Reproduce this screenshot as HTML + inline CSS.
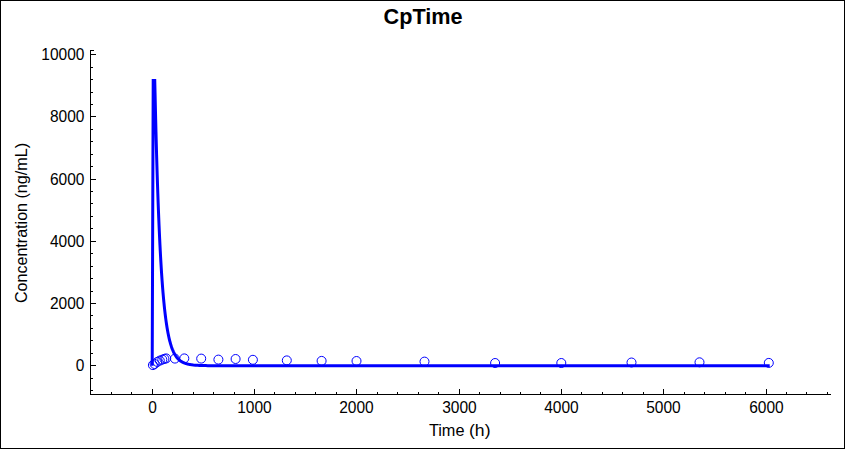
<!DOCTYPE html><html><head><meta charset="utf-8"><style>html,body{margin:0;padding:0;background:#fff;}svg{display:block;}text{font-family:"Liberation Sans",sans-serif;fill:#000;}</style></head><body>
<svg width="845" height="449" viewBox="0 0 845 449">
<rect x="0" y="0" width="845" height="449" fill="#fff"/>
<rect x="0.5" y="0.5" width="844" height="448" fill="none" stroke="#000" stroke-width="1"/>
<text x="383.6" y="23.5" font-size="22.6" font-weight="bold" textLength="79" lengthAdjust="spacingAndGlyphs">CpTime</text>
<path d="M90.5 50 V394.5 H830.5 M90 50.5 H94 M90 365.5 H96 M90 303.5 H96 M90 241.5 H96 M90 179.5 H96 M90 116.5 H96 M90 54.5 H96 M90 390.5 H93 M90 378.5 H93 M90 353.5 H93 M90 340.5 H93 M90 328.5 H93 M90 315.5 H93 M90 291.5 H93 M90 278.5 H93 M90 266.5 H93 M90 253.5 H93 M90 228.5 H93 M90 216.5 H93 M90 203.5 H93 M90 191.5 H93 M90 166.5 H93 M90 154.5 H93 M90 141.5 H93 M90 129.5 H93 M90 104.5 H93 M90 92.5 H93 M90 79.5 H93 M90 67.5 H93 M152.5 389 V395 M254.5 389 V395 M356.5 389 V395 M459.5 389 V395 M561.5 389 V395 M663.5 389 V395 M766.5 389 V395 M111.5 392 V395 M131.5 392 V395 M172.5 392 V395 M193.5 392 V395 M213.5 392 V395 M234.5 392 V395 M274.5 392 V395 M295.5 392 V395 M315.5 392 V395 M336.5 392 V395 M377.5 392 V395 M397.5 392 V395 M418.5 392 V395 M438.5 392 V395 M479.5 392 V395 M500.5 392 V395 M520.5 392 V395 M540.5 392 V395 M581.5 392 V395 M602.5 392 V395 M622.5 392 V395 M643.5 392 V395 M684.5 392 V395 M704.5 392 V395 M725.5 392 V395 M745.5 392 V395 M786.5 392 V395 M806.5 392 V395 M827.5 392 V395" stroke="#000" stroke-width="1" fill="none" shape-rendering="crispEdges"/>
<text x="84.5" y="371" text-anchor="end" font-size="16" textLength="8.63" lengthAdjust="spacingAndGlyphs">0</text>
<text x="84.5" y="309" text-anchor="end" font-size="16" textLength="34.52" lengthAdjust="spacingAndGlyphs">2000</text>
<text x="84.5" y="247" text-anchor="end" font-size="16" textLength="34.52" lengthAdjust="spacingAndGlyphs">4000</text>
<text x="84.5" y="185" text-anchor="end" font-size="16" textLength="34.52" lengthAdjust="spacingAndGlyphs">6000</text>
<text x="84.5" y="122" text-anchor="end" font-size="16" textLength="34.52" lengthAdjust="spacingAndGlyphs">8000</text>
<text x="84.5" y="60" text-anchor="end" font-size="16" textLength="43.15" lengthAdjust="spacingAndGlyphs">10000</text>
<text x="152.5" y="413" text-anchor="middle" font-size="16" textLength="8.63" lengthAdjust="spacingAndGlyphs">0</text>
<text x="254.5" y="413" text-anchor="middle" font-size="16" textLength="34.52" lengthAdjust="spacingAndGlyphs">1000</text>
<text x="356.5" y="413" text-anchor="middle" font-size="16" textLength="34.52" lengthAdjust="spacingAndGlyphs">2000</text>
<text x="459.5" y="413" text-anchor="middle" font-size="16" textLength="34.52" lengthAdjust="spacingAndGlyphs">3000</text>
<text x="561.5" y="413" text-anchor="middle" font-size="16" textLength="34.52" lengthAdjust="spacingAndGlyphs">4000</text>
<text x="663.5" y="413" text-anchor="middle" font-size="16" textLength="34.52" lengthAdjust="spacingAndGlyphs">5000</text>
<text x="766.5" y="413" text-anchor="middle" font-size="16" textLength="34.52" lengthAdjust="spacingAndGlyphs">6000</text>
<text x="428.9" y="435.6" font-size="16" textLength="35.6" lengthAdjust="spacingAndGlyphs">Time</text>
<text x="469" y="435.6" font-size="16" textLength="21.5" lengthAdjust="spacingAndGlyphs">(h)</text>
<text transform="translate(27 303) rotate(-90)" x="0" y="0" font-size="16" textLength="100" lengthAdjust="spacingAndGlyphs">Concentration</text>
<text transform="translate(27 198.6) rotate(-90)" x="0" y="0" font-size="16" textLength="55.6" lengthAdjust="spacingAndGlyphs">(ng/mL)</text>
<path d="M152.20 365.80 L153.20 80.40 L154.75 80.40 L155.05 93.03 L155.36 106.68 L155.67 119.63 L155.98 131.93 L156.28 143.60 L156.59 154.68 L156.90 165.19 L157.20 175.18 L157.51 184.66 L157.82 193.66 L158.12 202.20 L158.43 210.32 L158.74 218.02 L159.05 225.33 L159.35 232.28 L159.66 238.87 L159.97 245.13 L160.27 251.08 L160.58 256.73 L160.89 262.09 L161.19 267.19 L161.50 272.03 L161.81 276.62 L162.12 280.99 L162.42 285.14 L162.73 289.08 L163.04 292.82 L163.34 296.37 L163.65 299.75 L163.96 302.96 L164.26 306.01 L164.57 308.91 L164.88 311.66 L165.19 314.28 L165.49 316.76 L165.80 319.13 L166.11 321.37 L166.41 323.51 L166.72 325.54 L167.03 327.47 L167.33 329.30 L167.64 331.04 L167.95 332.70 L168.26 334.28 L168.56 335.77 L168.87 337.20 L169.18 338.55 L169.48 339.84 L169.79 341.07 L170.10 342.23 L170.40 343.34 L170.71 344.40 L171.02 345.40 L171.33 346.35 L171.63 347.26 L171.94 348.13 L172.25 348.95 L172.55 349.73 L172.86 350.48 L173.17 351.18 L173.47 351.86 L173.78 352.50 L174.09 353.11 L174.40 353.69 L174.70 354.25 L175.01 354.78 L175.32 355.28 L175.62 355.76 L175.93 356.21 L176.24 356.65 L176.54 357.06 L176.85 357.45 L177.16 357.83 L177.47 358.19 L177.77 358.53 L178.08 358.85 L178.39 359.16 L178.69 359.46 L179.00 359.74 L179.31 360.01 L179.61 360.26 L179.92 360.50 L180.23 360.74 L180.54 360.96 L180.84 361.17 L181.15 361.37 L181.46 361.56 L181.76 361.75 L182.07 361.92 L182.38 362.09 L182.68 362.25 L182.99 362.40 L183.30 362.55 L183.61 362.69 L183.91 362.82 L184.22 362.94 L184.53 363.07 L184.83 363.18 L185.14 363.29 L185.45 363.40 L185.75 363.50 L186.06 363.59 L186.37 363.68 L186.68 363.77 L186.98 363.86 L187.29 363.94 L187.60 364.01 L187.90 364.09 L188.21 364.16 L188.52 364.22 L188.82 364.29 L189.13 364.35 L189.44 364.41 L189.75 364.46 L190.05 364.52 L190.36 364.57 L190.67 364.62 L190.97 364.67 L191.28 364.71 L191.59 364.75 L191.89 364.79 L192.20 364.83 L192.51 364.87 L192.82 364.91 L193.12 364.94 L193.43 364.98 L195.48 365.17 L197.52 365.31 L199.57 365.42 L201.62 365.50 L203.66 365.57 L205.71 365.62 L207.76 365.66 L209.80 365.69 L211.85 365.71 L213.90 365.73 L215.94 365.74 L217.99 365.75 L220.04 365.76 L222.08 365.77 L224.13 365.78 L769.70 365.80" stroke="#0000ff" stroke-width="3" fill="none" stroke-linejoin="miter" stroke-linecap="butt"/>
<circle cx="152.9" cy="365.1" r="4.5" fill="none" stroke="#0000ff" stroke-width="1"/>
<circle cx="154.6" cy="364.0" r="4.5" fill="none" stroke="#0000ff" stroke-width="1"/>
<circle cx="157.3" cy="361.9" r="4.5" fill="none" stroke="#0000ff" stroke-width="1"/>
<circle cx="159.8" cy="360.6" r="4.5" fill="none" stroke="#0000ff" stroke-width="1"/>
<circle cx="162.3" cy="359.6" r="4.5" fill="none" stroke="#0000ff" stroke-width="1"/>
<circle cx="164.4" cy="358.9" r="4.5" fill="none" stroke="#0000ff" stroke-width="1"/>
<circle cx="166.2" cy="358.4" r="4.5" fill="none" stroke="#0000ff" stroke-width="1"/>
<circle cx="174.9" cy="358.6" r="4.5" fill="none" stroke="#0000ff" stroke-width="1"/>
<circle cx="184.3" cy="358.4" r="4.5" fill="none" stroke="#0000ff" stroke-width="1"/>
<circle cx="201.2" cy="358.6" r="4.5" fill="none" stroke="#0000ff" stroke-width="1"/>
<circle cx="218.4" cy="359.6" r="4.5" fill="none" stroke="#0000ff" stroke-width="1"/>
<circle cx="235.6" cy="359.0" r="4.5" fill="none" stroke="#0000ff" stroke-width="1"/>
<circle cx="252.9" cy="359.8" r="4.5" fill="none" stroke="#0000ff" stroke-width="1"/>
<circle cx="286.8" cy="360.4" r="4.5" fill="none" stroke="#0000ff" stroke-width="1"/>
<circle cx="321.6" cy="360.9" r="4.5" fill="none" stroke="#0000ff" stroke-width="1"/>
<circle cx="356.5" cy="361.0" r="4.5" fill="none" stroke="#0000ff" stroke-width="1"/>
<circle cx="424.5" cy="361.6" r="4.5" fill="none" stroke="#0000ff" stroke-width="1"/>
<circle cx="495.1" cy="363.0" r="4.5" fill="none" stroke="#0000ff" stroke-width="1"/>
<circle cx="561.3" cy="363.0" r="4.5" fill="none" stroke="#0000ff" stroke-width="1"/>
<circle cx="631.5" cy="362.5" r="4.5" fill="none" stroke="#0000ff" stroke-width="1"/>
<circle cx="699.5" cy="362.3" r="4.5" fill="none" stroke="#0000ff" stroke-width="1"/>
<circle cx="768.8" cy="362.9" r="4.5" fill="none" stroke="#0000ff" stroke-width="1"/>
</svg></body></html>
